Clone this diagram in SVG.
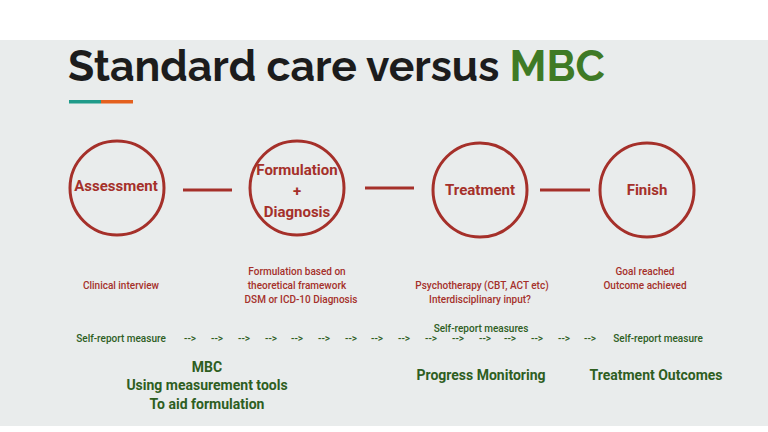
<svg xmlns="http://www.w3.org/2000/svg" width="768" height="432" viewBox="0 0 768 432">
<style>
.n{fill:none;stroke:#a5302a;stroke-width:3}
.nt{font-family:Roboto,"Liberation Sans",sans-serif;font-weight:bold;font-size:15px;fill:#a5302a;text-anchor:middle}
.d{font-family:Roboto,"Liberation Sans",sans-serif;font-weight:500;font-size:10px;fill:#a5302a;text-anchor:middle}
.g{font-family:Roboto,"Liberation Sans",sans-serif;font-weight:500;font-size:10px;fill:#2e5e1f;text-anchor:middle}
.G{font-family:Roboto,"Liberation Sans",sans-serif;font-weight:bold;font-size:14px;fill:#2e5e1f;text-anchor:middle}
.c{stroke:#a5302a;stroke-width:3}
</style>
<rect width="768" height="432" fill="#fff"/>
<rect y="40" width="768" height="386" fill="#e9ecec"/>
<text x="68" y="81" font-family="Raleway,Lato,'Open Sans',sans-serif" font-weight="bold" font-size="42.7" fill="#1c1c1c">Standard care versus <tspan fill="#3f7a25">MBC</tspan></text>
<rect x="69" y="100" width="32" height="3.5" fill="#1f9b8a"/>
<rect x="101" y="100" width="32" height="3.5" fill="#e4601e"/>
<g id="connectors">
<line class="c" x1="183" y1="190" x2="232" y2="190"/>
<line class="c" x1="365" y1="188" x2="414" y2="188"/>
<line class="c" x1="540" y1="190" x2="590" y2="190"/>
</g>
<g id="assessment"><circle class="n" cx="117" cy="188" r="47"/><text class="nt" x="116" y="191">Assessment</text></g>
<g id="formulation"><circle class="n" cx="297" cy="188" r="47"/><text class="nt" x="297" y="175">Formulation</text><text class="nt" x="297" y="196">+</text><text class="nt" x="297" y="217">Diagnosis</text></g>
<g id="treatment"><circle class="n" cx="480" cy="190" r="47"/><text class="nt" x="480" y="195">Treatment</text></g>
<g id="finish"><circle class="n" cx="647" cy="190" r="47"/><text class="nt" x="647" y="195">Finish</text></g>
<text class="d" x="121" y="289">Clinical interview</text>
<text class="d" x="297" y="275">Formulation based on</text>
<text class="d" x="297" y="289">theoretical framework</text>
<text class="d" x="301" y="303">DSM or ICD-10 Diagnosis</text>
<text class="d" x="482" y="289">Psychotherapy (CBT, ACT etc)</text>
<text class="d" x="480" y="303">Interdisciplinary input?</text>
<text class="d" x="645" y="275">Goal reached</text>
<text class="d" x="645" y="289">Outcome achieved</text>
<text class="g" x="121" y="342">Self-report measure</text>
<text class="g" x="481" y="332">Self-report measures</text>
<text class="g" x="658" y="342">Self-report measure</text>
<g id="arrows">
<text class="g" x="190" y="342">--&gt;</text><text class="g" x="217" y="342">--&gt;</text><text class="g" x="244" y="342">--&gt;</text><text class="g" x="271" y="342">--&gt;</text><text class="g" x="297" y="342">--&gt;</text><text class="g" x="324" y="342">--&gt;</text><text class="g" x="351" y="342">--&gt;</text><text class="g" x="377" y="342">--&gt;</text><text class="g" x="404" y="342">--&gt;</text><text class="g" x="431" y="342">--&gt;</text><text class="g" x="458" y="342">--&gt;</text><text class="g" x="485" y="342">--&gt;</text><text class="g" x="510" y="342">--&gt;</text><text class="g" x="537" y="342">--&gt;</text><text class="g" x="564" y="342">--&gt;</text><text class="g" x="590" y="342">--&gt;</text>
</g>
<text class="G" x="207" y="372">MBC</text>
<text class="G" x="207" y="390">Using measurement tools</text>
<text class="G" x="207" y="409">To aid formulation</text>
<text class="G" x="481" y="380">Progress Monitoring</text>
<text class="G" x="656" y="380">Treatment Outcomes</text>
</svg>
